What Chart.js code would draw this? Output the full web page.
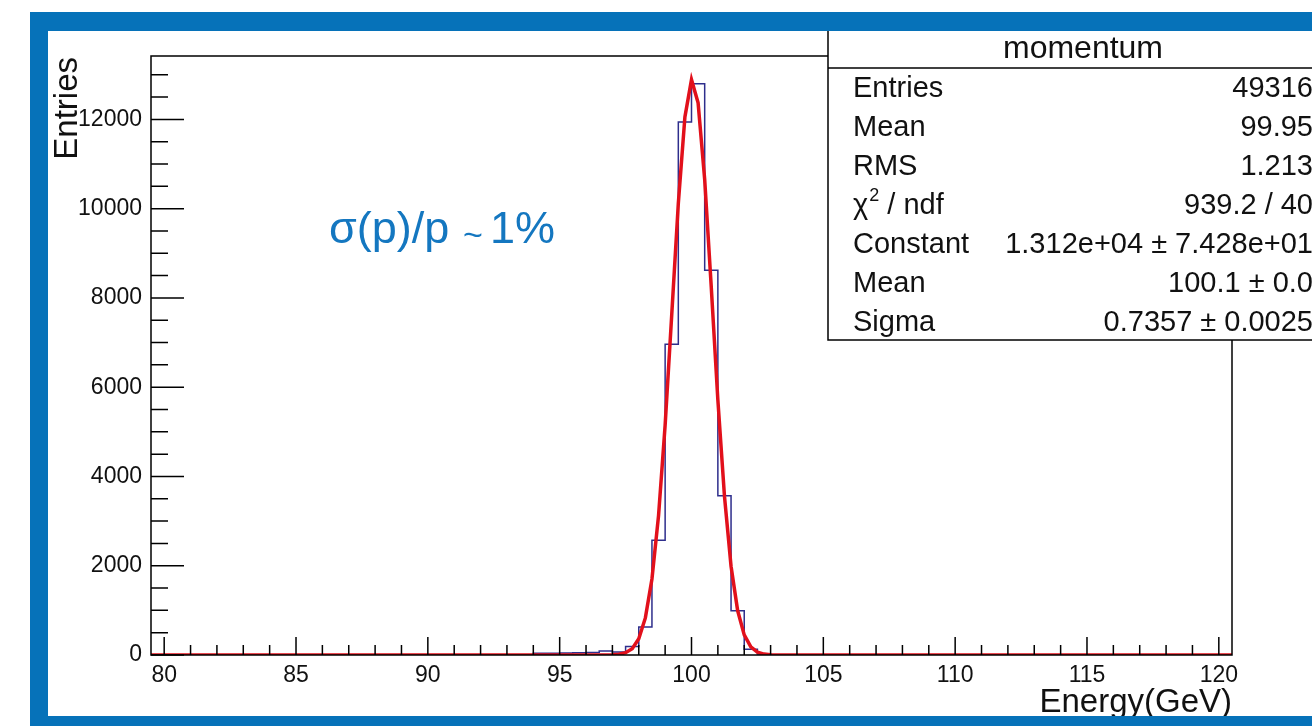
<!DOCTYPE html>
<html lang="en">
<head>
<meta charset="UTF-8">
<title>momentum</title>
<script src="https://cdn.jsdelivr.net/npm/chart.js"></script>
<style>
  html, body { margin: 0; padding: 0; background: #fff; overflow: hidden; }
  .page { position: relative; width: 1312px; height: 726px; overflow: hidden; }
  .frame {
    position: absolute; left: 30px; top: 12px; width: 1400px; height: 714px;
    box-sizing: border-box; pointer-events: none;
    border-top: 19px solid #0672b9; border-left: 18px solid #0672b9; border-bottom: 10px solid #0672b9;
  }
  canvas { position: absolute; left: 0; top: 0; }
</style>
</head>
<body>
<div class="page">
  <canvas id="plot" width="1312" height="726"></canvas>
  <div class="frame"></div>
</div>
<script>
  // histogram: 0.5 GeV bins, counts (all other bins are empty)
  const binStart = 94;
  const binWidth = 0.5;
  const binCounts = [40, 40, 45, 50, 55, 90, 70, 190, 630, 2570, 6960, 11940, 12800, 8620, 3570, 990, 130, 20];

  // gaussian fit curve
  const fitX = [79.5, 96, 97, 97.25, 97.5, 97.75, 98, 98.25, 98.5, 98.75, 99, 99.25, 99.5, 99.75,
                100, 100.25, 100.5, 100.75, 101, 101.25, 101.5, 101.75, 102, 102.25, 102.5, 102.75, 103, 104, 120.5];
  const fitY = [0, 0, 5, 16, 51, 143, 364, 831, 1702, 3124, 5151, 7619, 10115, 12054,
                12890, 12371, 10657, 8237, 5713, 3558, 1988, 996, 449, 181, 66, 21, 6, 0, 0];

  const xTicks = [80, 85, 90, 95, 100, 105, 110, 115, 120];
  const yTicks = [0, 2000, 4000, 6000, 8000, 10000, 12000];

  const statsTitle = 'momentum';
  const statsLabels = ['Entries', 'Mean', 'RMS', 'χ2 / ndf', 'Constant', 'Mean', 'Sigma'];
  const statsValues = ['49316', '99.95', '1.213', '939.2 / 40', '1.312e+04 ± 7.428e+01', '100.1 ± 0.0', '0.7357 ± 0.0025'];

  const FONT = '"Liberation Sans", Arial, Helvetica, sans-serif';

  // step outline of the histogram
  const histPoints = [{x: 79.5, y: 0}];
  binCounts.forEach((c, i) => histPoints.push({x: binStart + i * binWidth, y: c}));
  histPoints.push({x: binStart + binCounts.length * binWidth, y: 0});
  histPoints.push({x: 120.5, y: 0});

  const fitPoints = fitX.map((v, i) => ({x: v, y: fitY[i]}));

  const rootStyle = {
    id: 'rootStyle',
    afterDraw(chart) {
      const {ctx, chartArea: a} = chart;
      const x = chart.scales.x, y = chart.scales.y;
      ctx.save();

      // frame
      ctx.strokeStyle = '#000';
      ctx.lineWidth = 1.5;
      ctx.strokeRect(a.left, a.top, a.right - a.left, a.bottom - a.top);

      // inward ticks, ROOT style
      ctx.beginPath();
      for (let v = 80; v <= 120; v += 1) {
        const px = x.getPixelForValue(v);
        const len = v % 5 === 0 ? 18 : 10;
        ctx.moveTo(px, a.bottom);
        ctx.lineTo(px, a.bottom - len);
      }
      for (let v = 0; v <= y.max; v += 500) {
        const py = y.getPixelForValue(v);
        const len = v % 2000 === 0 ? 33 : 17;
        ctx.moveTo(a.left, py);
        ctx.lineTo(a.left + len, py);
      }
      ctx.stroke();

      // axis titles
      ctx.fillStyle = '#111';
      ctx.font = '33px ' + FONT;
      ctx.textAlign = 'right';
      ctx.textBaseline = 'alphabetic';
      ctx.fillText('Energy(GeV)', a.right, 712);
      ctx.save();
      ctx.translate(77, 57);
      ctx.rotate(-Math.PI / 2);
      ctx.fillText('Entries', 0, 0);
      ctx.restore();

      // annotation
      ctx.fillStyle = '#1477c0';
      ctx.textAlign = 'left';
      ctx.font = '45px ' + FONT;
      ctx.fillText('σ(p)/p', 329, 243);
      ctx.font = '34px ' + FONT;
      ctx.fillText('~', 463, 246);
      ctx.font = '45px ' + FONT;
      ctx.fillText('1%', 490, 243);

      // stats box
      const bx = 828, by = 30, bw = 560, bh = 310;
      ctx.fillStyle = '#fff';
      ctx.fillRect(bx, by, bw, bh);
      ctx.strokeStyle = '#000';
      ctx.lineWidth = 1.5;
      ctx.strokeRect(bx, by, bw, bh);
      ctx.beginPath();
      ctx.moveTo(bx, 68);
      ctx.lineTo(bx + bw, 68);
      ctx.stroke();

      ctx.fillStyle = '#111';
      ctx.font = '32px ' + FONT;
      ctx.textAlign = 'center';
      ctx.fillText(statsTitle, bx + bw / 2 - 25, 58);

      ctx.font = '29px ' + FONT;
      statsLabels.forEach((lab, i) => {
        const base = 97 + i * 39;
        ctx.textAlign = 'left';
        if (lab.startsWith('χ2')) {
          ctx.fillText('χ', 853, base);
          const w = ctx.measureText('χ').width;
          ctx.font = '18px ' + FONT;
          ctx.fillText('2', 853 + w + 1, base - 13);
          ctx.font = '29px ' + FONT;
          ctx.fillText(' / ndf', 853 + w + 11, base);
        } else {
          ctx.fillText(lab, 853, base);
        }
        ctx.textAlign = 'right';
        ctx.fillText(statsValues[i], 1313, base);
      });

      ctx.restore();
    }
  };

  const tickFont = {family: FONT, size: 23};

  new Chart(document.getElementById('plot'), {
    type: 'scatter',
    data: {
      datasets: [
        {
          label: 'fit',
          data: fitPoints,
          showLine: true,
          borderColor: '#e2101b',
          borderWidth: 3.5,
          pointRadius: 0,
          tension: 0,
          order: 0
        },
        {
          label: 'momentum',
          data: histPoints,
          showLine: true,
          stepped: true,
          borderColor: '#2e2e8c',
          borderWidth: 1.5,
          pointRadius: 0,
          order: 1
        }
      ]
    },
    options: {
      responsive: false,
      animation: false,
      layout: {padding: {left: 0, top: 56, right: 80, bottom: 0}},
      plugins: {legend: {display: false}, tooltip: {enabled: false}},
      scales: {
        x: {
          type: 'linear',
          min: 79.5,
          max: 120.5,
          grid: {display: false, drawTicks: false},
          border: {display: false},
          afterBuildTicks: s => { s.ticks = xTicks.map(v => ({value: v})); },
          afterFit: s => { s.height = 71; },
          ticks: {padding: 7, font: tickFont, color: '#111', maxRotation: 0, autoSkip: false,
                  callback: v => String(v)}
        },
        y: {
          type: 'linear',
          min: 0,
          max: 13420,
          grid: {display: false, drawTicks: false},
          border: {display: false},
          afterBuildTicks: s => { s.ticks = yTicks.map(v => ({value: v})); },
          afterFit: s => { s.width = 151; },
          ticks: {padding: 9, font: tickFont, color: '#111', autoSkip: false,
                  callback: v => String(v)}
        }
      }
    },
    plugins: [rootStyle]
  });
</script>
</body>
</html>
